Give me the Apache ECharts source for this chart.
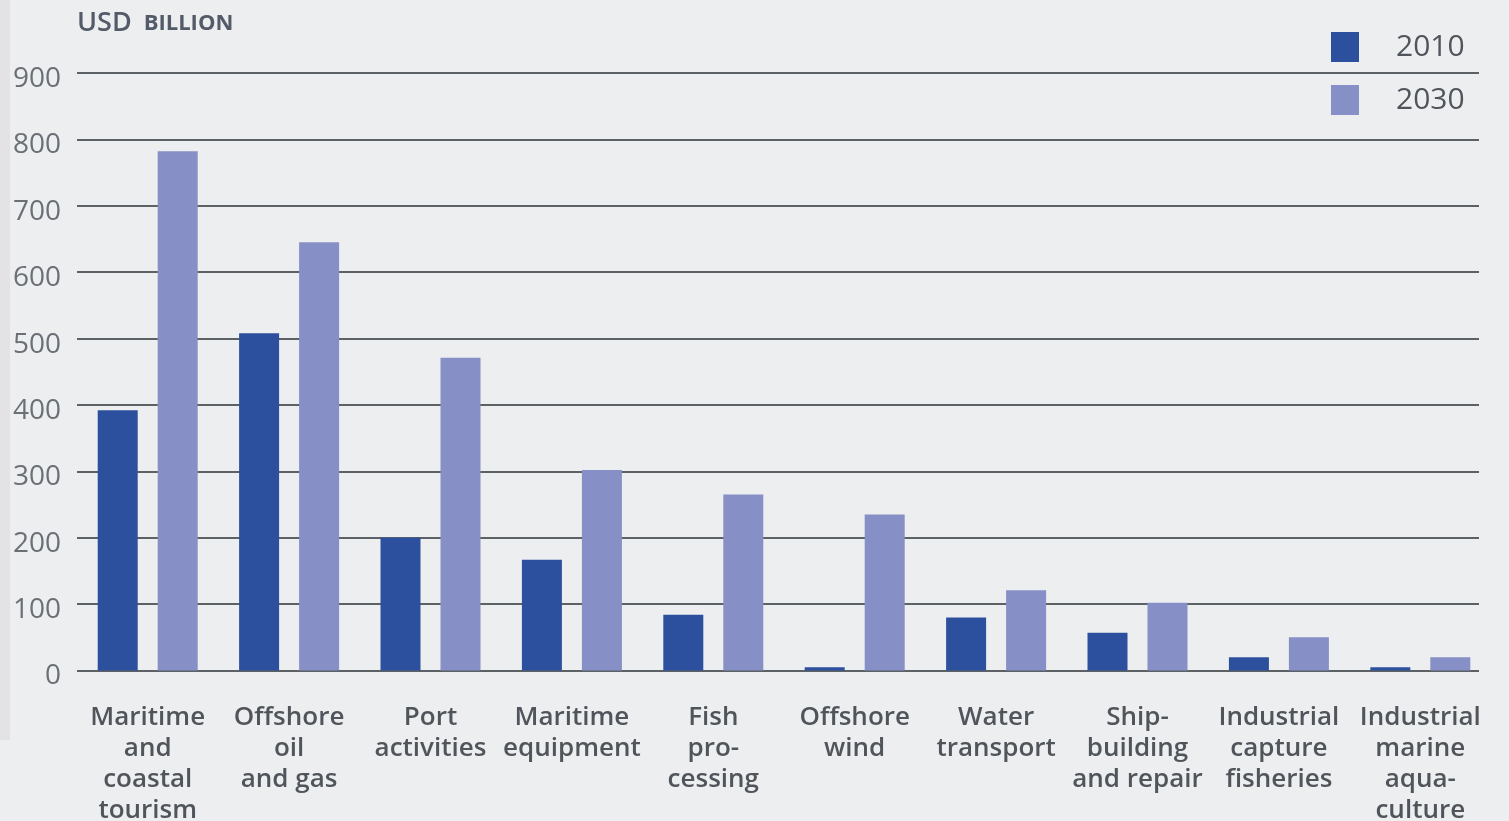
<!DOCTYPE html>
<html>
<head>
<meta charset="utf-8">
<script src="https://cdn.jsdelivr.net/npm/echarts@6/dist/echarts.min.js"></script>
<style>
html,body{margin:0;padding:0;background:#edeef0;}
#chart{width:1509px;height:821px;}
</style>
</head>
<body>
<div id="chart"></div>
<script>
const categories = [
  "Maritime\nand\ncoastal\ntourism",
  "Offshore\noil\nand gas",
  "Port\nactivities",
  "Maritime\nequipment",
  "Fish\npro-\ncessing",
  "Offshore\nwind",
  "Water\ntransport",
  "Ship-\nbuilding\nand repair",
  "Industrial\ncapture\nfisheries",
  "Industrial\nmarine\naqua-\nculture"
];
const values2010 = [392, 508, 200, 167, 84, 5, 80, 57, 20, 5];
const values2030 = [782, 645, 471, 302, 265, 235, 121, 102, 50, 20];
const seriesNames = ["2010", "2030"];
const yTicks = [0, 100, 200, 300, 400, 500, 600, 700, 800, 900];

const chart = echarts.init(document.getElementById('chart'));
const font = "'Open Sans', sans-serif";
const yMin = yTicks[0], yMax = yTicks[yTicks.length - 1], yStep = yTicks[1] - yTicks[0];
chart.setOption({
  backgroundColor: '#edeef0',
  animation: false,
  graphic: [
    {type: 'rect', left: 0, top: 0, shape: {width: 10, height: 740}, style: {fill: '#e3e3e5'}, z: -1}
  ],
  title: {
    text: '{a|USD}{b|BILLION}',
    left: 72, top: 5,
    textStyle: {
      rich: {
        a: {fontFamily: font, fontSize: 27, fontWeight: 600, color: '#535a68'},
        b: {fontFamily: font, fontSize: 22, fontWeight: 700, color: '#535a68', padding: [0, 0, 0, 12]}
      }
    }
  },
  legend: {
    orient: 'vertical',
    left: 1331, top: 32,
    padding: 0,
    itemWidth: 28, itemHeight: 30,
    itemGap: 23,
    icon: 'rect',
    textStyle: {fontFamily: font, fontSize: 30, color: '#50555b', padding: [0, 0, 0, 32]},
    data: seriesNames
  },
  grid: [
    {left: 77, right: 18, top: 73, bottom: 150.5, containLabel: false, outerBoundsMode: 'none'},
    {left: 77, right: 30, top: 73, bottom: 150.5, containLabel: false, outerBoundsMode: 'none'}
  ],
  xAxis: [
    {
      type: 'category',
      gridIndex: 0,
      data: categories,
      axisLine: {show: false},
      axisTick: {show: false},
      axisLabel: {
        interval: 0,
        margin: 32,
        fontFamily: font, fontSize: 26, fontWeight: 600,
        lineHeight: 31,
        color: '#50555b',
        align: 'center'
      }
    },
    {type: 'value', gridIndex: 1, show: false}
  ],
  yAxis: [
    {
      type: 'value',
      gridIndex: 0,
      min: yMin, max: yMax, interval: yStep,
      axisLine: {show: false},
      axisTick: {show: false},
      axisLabel: {
        fontFamily: font, fontSize: 28, color: '#6b7076', margin: 16,
        formatter: '{v|{value}}',
        rich: {v: {fontFamily: font, fontSize: 28, color: '#6b7076', padding: [12, 0, 0, 0]}}
      },
      splitLine: {show: false},
      z: 1
    },
    {
      type: 'value',
      gridIndex: 1,
      min: yMin, max: yMax, interval: yStep,
      axisLine: {show: false},
      axisTick: {show: false},
      axisLabel: {show: false},
      splitLine: {lineStyle: {color: '#5c6166', width: 2}}
    }
  ],
  series: [
    {
      name: seriesNames[0], type: 'bar', data: values2010,
      xAxisIndex: 0, yAxisIndex: 0,
      barWidth: 40, barGap: '50%',
      itemStyle: {color: '#2d509e'},
      z: 3
    },
    {
      name: seriesNames[1], type: 'bar', data: values2030,
      xAxisIndex: 0, yAxisIndex: 0,
      barWidth: 40,
      itemStyle: {color: '#8690c6'},
      z: 3
    }
  ]
});
</script>
</body>
</html>
